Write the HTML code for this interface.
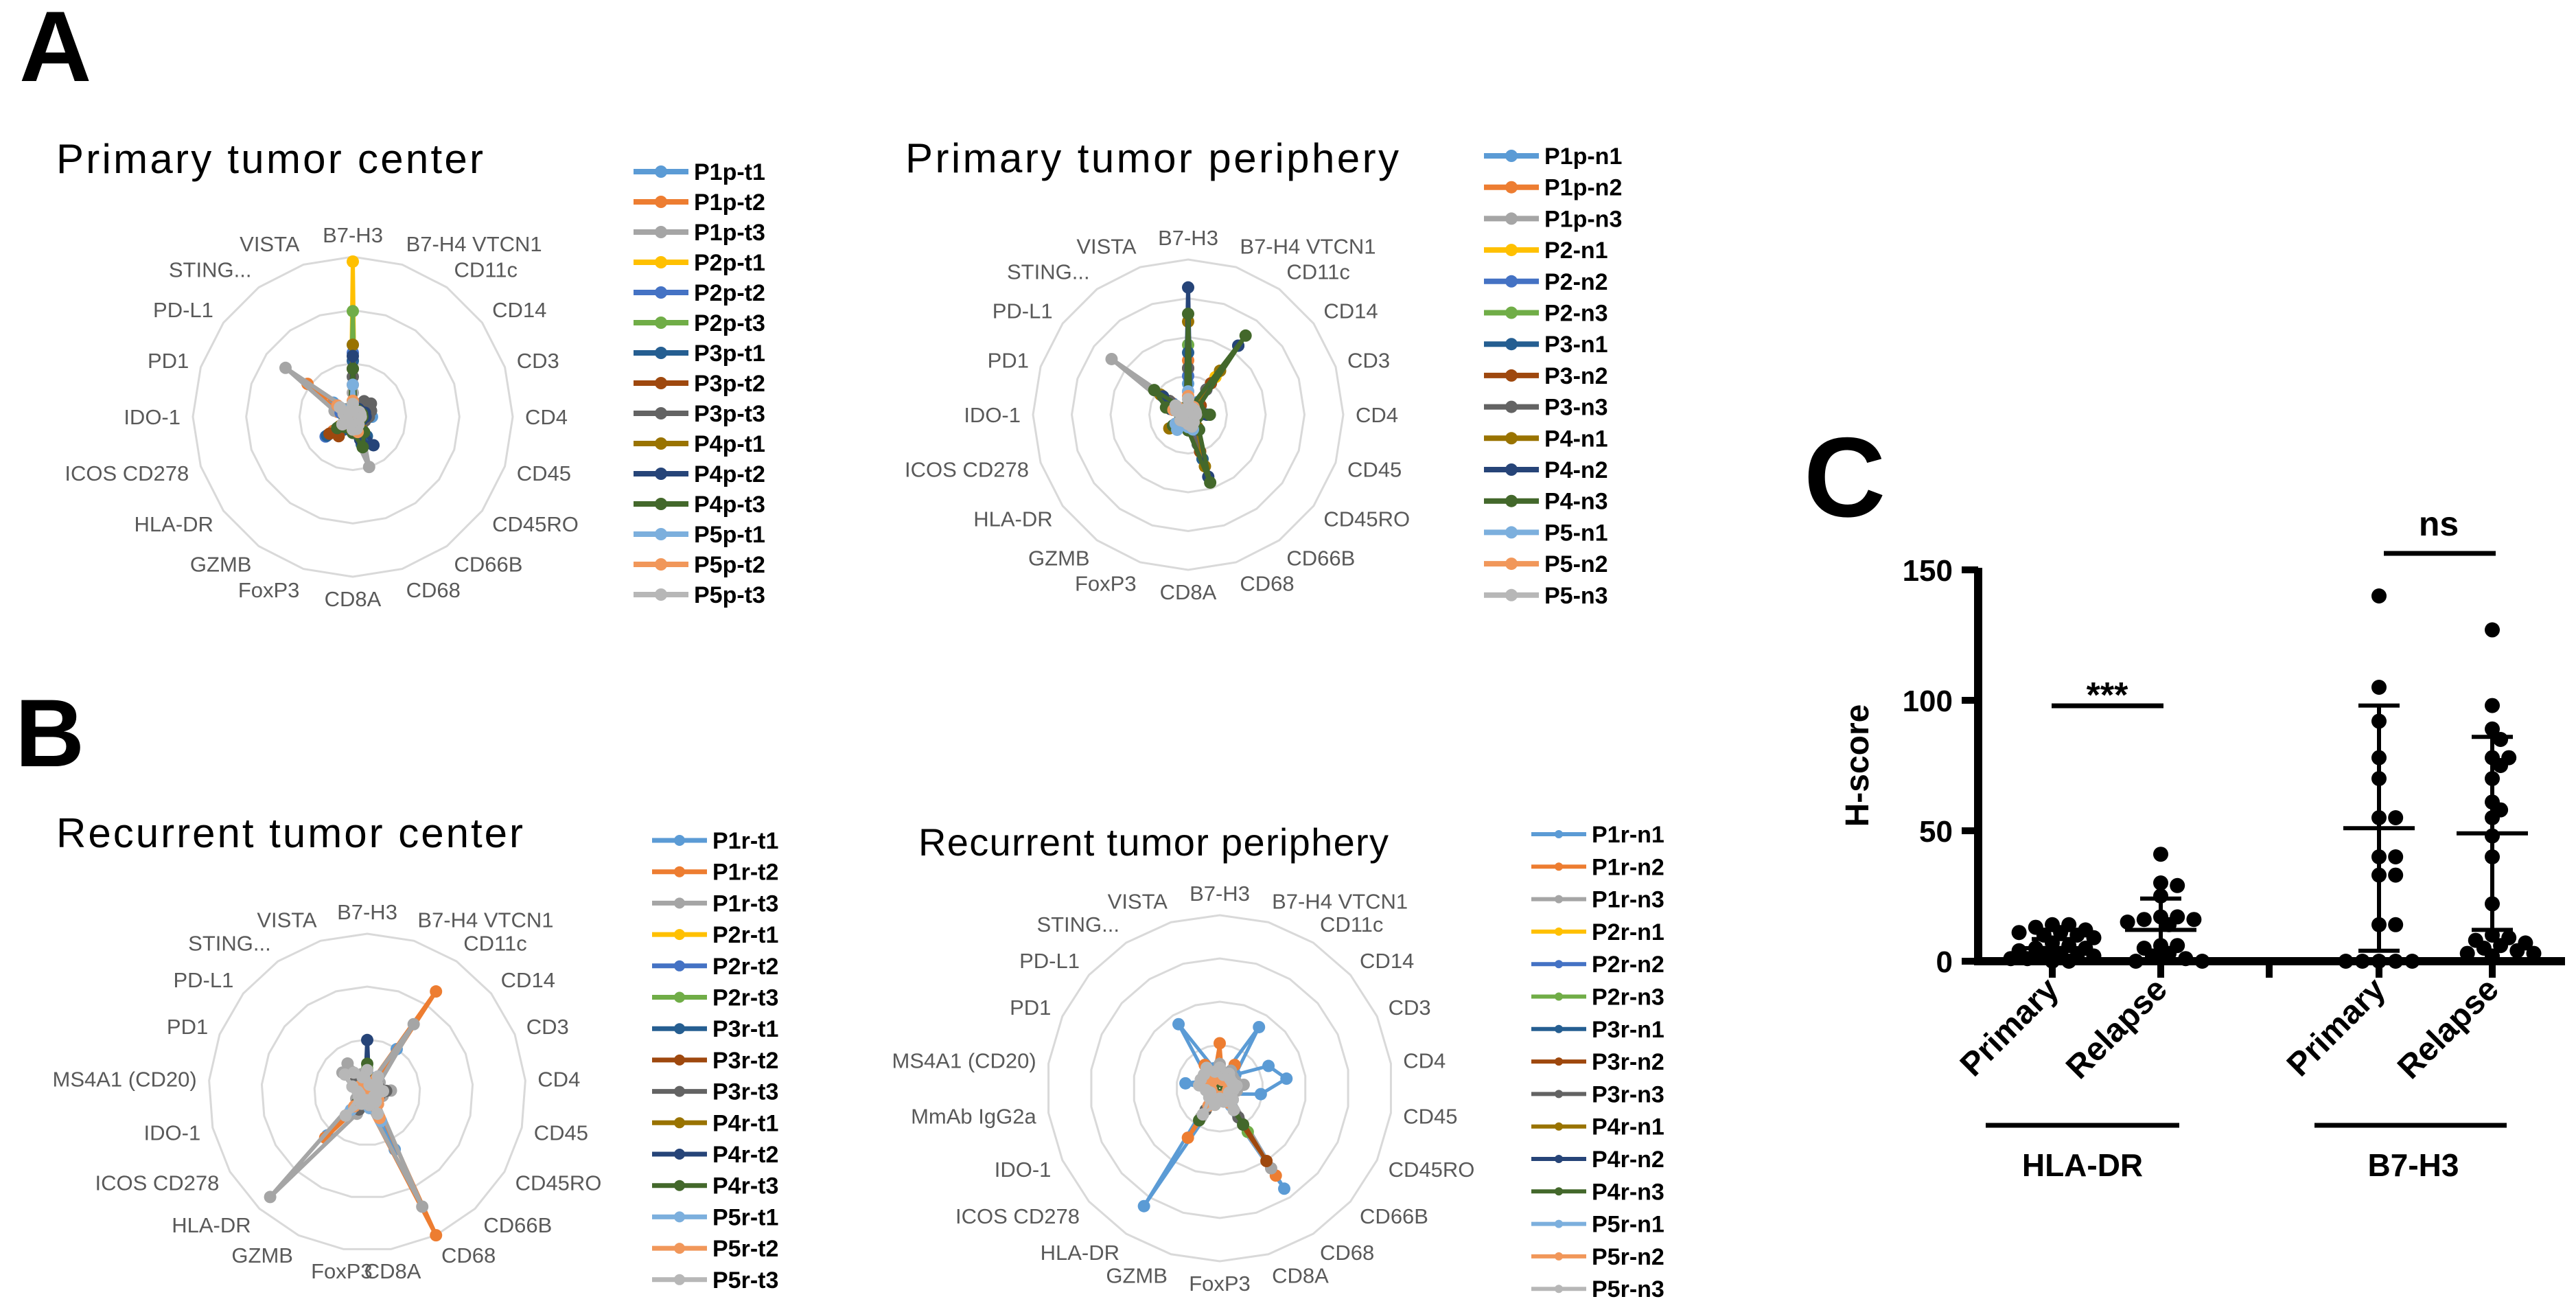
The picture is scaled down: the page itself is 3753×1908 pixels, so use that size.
<!DOCTYPE html>
<html><head><meta charset="utf-8"><style>
html,body{margin:0;padding:0;background:#fff}
svg{display:block;font-family:"Liberation Sans",Arial,sans-serif}
</style></head><body>
<svg id="fig" width="3753" height="1908" viewBox="0 0 3753 1908" xmlns="http://www.w3.org/2000/svg">
<rect width="3753" height="1908" fill="#fff"/>
<text x="28" y="118" font-size="146" font-weight="bold">A</text>
<text x="22" y="1116" font-size="140" font-weight="bold">B</text>
<text x="2628" y="752" font-size="165" font-weight="bold">C</text>
<text x="82" y="252" font-size="60" textLength="622">Primary tumor center</text>
<text x="1319" y="251" font-size="60" textLength="719">Primary tumor periphery</text>
<text x="82" y="1234" font-size="60" textLength="680">Recurrent tumor center</text>
<text x="1338" y="1246" font-size="56" textLength="685">Recurrent tumor periphery</text>
<g id="radars"></g>
<g id="panelC"></g>
</svg>
<script>
const NS='http://www.w3.org/2000/svg';
const COLORS=['#5B9BD5','#ED7D31','#A5A5A5','#FFC000','#4472C4','#70AD47','#255E91','#9E480E','#636363','#997300','#264478','#43682B','#7CAFDD','#F1975A','#B7B7B7'];

// ---------- Radar data ----------
const axesA=['B7-H3','B7-H4 VTCN1','CD11c','CD14','CD3','CD4','CD45','CD45RO','CD66B','CD68','CD8A','FoxP3','GZMB','HLA-DR','ICOS CD278','IDO-1','PD1','PD-L1','STING...','VISTA'];
const axesBL=['B7-H3','B7-H4 VTCN1','CD11c','CD14','CD3','CD4','CD45','CD45RO','CD66B','CD68','CD8A','FoxP3','GZMB','HLA-DR','ICOS CD278','IDO-1','MS4A1 (CD20)','PD1','PD-L1','STING...','VISTA'];
const axesBR=['B7-H3','B7-H4 VTCN1','CD11c','CD14','CD3','CD4','CD45','CD45RO','CD66B','CD68','CD8A','FoxP3','GZMB','HLA-DR','ICOS CD278','IDO-1','MmAb IgG2a','MS4A1 (CD20)','PD1','PD-L1','STING...','VISTA'];

const namesAL=['P1p-t1','P1p-t2','P1p-t3','P2p-t1','P2p-t2','P2p-t3','P3p-t1','P3p-t2','P3p-t3','P4p-t1','P4p-t2','P4p-t3','P5p-t1','P5p-t2','P5p-t3'];
const namesAR=['P1p-n1','P1p-n2','P1p-n3','P2-n1','P2-n2','P2-n3','P3-n1','P3-n2','P3-n3','P4-n1','P4-n2','P4-n3','P5-n1','P5-n2','P5-n3'];
const namesBL=['P1r-t1','P1r-t2','P1r-t3','P2r-t1','P2r-t2','P2r-t3','P3r-t1','P3r-t2','P3r-t3','P4r-t1','P4r-t2','P4r-t3','P5r-t1','P5r-t2','P5r-t3'];
const namesBR=['P1r-n1','P1r-n2','P1r-n3','P2r-n1','P2r-n2','P2r-n3','P3r-n1','P3r-n2','P3r-n3','P4r-n1','P4r-n2','P4r-n3','P5r-n1','P5r-n2','P5r-n3'];

const valuesAL=[
[.45,.05,.05,.08,.1,.12,.08,.05,.1,.15,.1,.05,.08,.15,.05,.05,.08,.15,.05,.05],
[.2,.05,.05,.05,.05,.06,.05,.05,.08,.1,.1,.05,.1,.15,.05,.05,.1,.35,.05,.05],
[.15,.05,.05,.06,.08,.1,.06,.05,.1,.33,.1,.05,.06,.1,.05,.05,.12,.52,.06,.05],
[.97,.04,.04,.04,.05,.05,.04,.04,.05,.05,.05,.04,.04,.05,.04,.04,.04,.05,.04,.04],
[.4,.05,.05,.05,.06,.08,.05,.05,.1,.12,.08,.05,.1,.21,.05,.05,.08,.12,.05,.05],
[.66,.05,.05,.05,.06,.06,.05,.05,.12,.18,.1,.05,.06,.1,.05,.05,.05,.08,.05,.05],
[.35,.05,.06,.08,.08,.1,.06,.05,.15,.18,.1,.05,.1,.2,.05,.05,.06,.1,.05,.05],
[.3,.05,.05,.05,.06,.06,.05,.05,.1,.12,.08,.05,.15,.18,.05,.05,.05,.08,.05,.05],
[.25,.06,.12,.14,.12,.1,.08,.05,.1,.1,.08,.05,.06,.08,.05,.05,.06,.08,.05,.05],
[.45,.05,.05,.06,.06,.06,.05,.05,.08,.12,.08,.05,.06,.1,.05,.05,.05,.08,.05,.05],
[.38,.05,.06,.06,.08,.08,.06,.05,.22,.15,.1,.05,.08,.12,.05,.05,.05,.08,.05,.05],
[.3,.05,.05,.05,.06,.06,.05,.05,.12,.2,.1,.05,.08,.12,.05,.05,.05,.08,.05,.05],
[.2,.04,.04,.05,.05,.05,.04,.04,.06,.08,.06,.04,.05,.08,.04,.04,.05,.08,.04,.04],
[.1,.04,.04,.05,.05,.05,.04,.04,.06,.1,.08,.04,.05,.08,.04,.04,.06,.12,.04,.04],
[.08,.04,.04,.05,.05,.05,.04,.04,.06,.08,.08,.04,.05,.08,.04,.04,.06,.1,.04,.04]];

const valuesAR=[
[.2,.05,.1,.06,.06,.06,.05,.05,.08,.12,.08,.05,.1,.12,.05,.05,.08,.1,.05,.05],
[.35,.05,.08,.05,.05,.05,.05,.05,.06,.1,.08,.05,.06,.1,.05,.05,.12,.14,.05,.05],
[.15,.05,.06,.05,.05,.06,.05,.05,.06,.1,.08,.05,.06,.1,.05,.05,.1,.61,.05,.05],
[.3,.05,.3,.06,.06,.06,.05,.05,.08,.25,.1,.05,.08,.1,.05,.05,.1,.12,.05,.05],
[.25,.05,.2,.06,.06,.06,.05,.05,.08,.2,.1,.05,.1,.12,.05,.05,.1,.12,.05,.05],
[.45,.05,.35,.08,.06,.08,.05,.05,.1,.3,.1,.05,.1,.1,.05,.05,.12,.2,.05,.05],
[.4,.05,.55,.06,.06,.06,.05,.05,.1,.3,.1,.05,.08,.1,.05,.05,.1,.15,.05,.05],
[.3,.05,.25,.1,.08,.06,.05,.05,.1,.25,.1,.05,.08,.1,.05,.05,.1,.15,.05,.05],
[.3,.05,.2,.06,.06,.08,.05,.05,.1,.2,.1,.05,.08,.1,.05,.05,.1,.15,.05,.05],
[.6,.05,.35,.06,.06,.06,.05,.05,.1,.35,.1,.05,.1,.15,.05,.05,.12,.22,.05,.05],
[.82,.05,.55,.08,.08,.12,.06,.05,.12,.42,.1,.05,.1,.12,.05,.05,.12,.2,.05,.05],
[.65,.05,.63,.08,.08,.14,.06,.05,.12,.46,.1,.05,.1,.12,.05,.05,.15,.27,.05,.05],
[.15,.04,.06,.05,.05,.05,.04,.04,.06,.1,.08,.04,.12,.1,.04,.04,.06,.08,.04,.04],
[.12,.04,.06,.05,.05,.05,.04,.04,.06,.08,.06,.04,.05,.06,.04,.04,.1,.08,.04,.04],
[.1,.04,.05,.05,.05,.05,.04,.04,.06,.08,.06,.04,.05,.06,.04,.04,.08,.1,.04,.04]];

const valuesBL=[
[.1,.05,.33,.06,.06,.06,.05,.05,.08,.4,.1,.05,.08,.37,.05,.05,.05,.08,.1,.08,.06],
[.08,.05,.77,.06,.06,.06,.05,.05,.08,1.0,.1,.05,.08,.39,.05,.05,.05,.08,.1,.08,.06],
[.12,.05,.52,.1,.08,.15,.1,.05,.1,.8,.1,.05,.15,.9,.08,.05,.06,.1,.2,.22,.12],
[.06,.04,.04,.04,.04,.04,.04,.04,.05,.06,.05,.04,.04,.06,.04,.04,.04,.05,.05,.04,.04],
[.08,.04,.05,.05,.05,.05,.04,.04,.05,.08,.05,.04,.05,.08,.04,.04,.04,.05,.06,.05,.04],
[.15,.04,.05,.05,.05,.05,.04,.04,.05,.08,.05,.04,.05,.08,.04,.04,.04,.05,.06,.05,.04],
[.12,.04,.06,.05,.05,.05,.04,.04,.05,.1,.06,.04,.05,.08,.04,.04,.04,.05,.06,.05,.04],
[.08,.04,.05,.05,.05,.05,.04,.04,.05,.1,.06,.04,.08,.1,.04,.04,.04,.05,.06,.05,.04],
[.1,.05,.08,.08,.08,.12,.08,.05,.06,.12,.06,.04,.12,.1,.05,.04,.04,.06,.1,.08,.05],
[.1,.04,.05,.05,.05,.05,.04,.04,.05,.08,.05,.04,.05,.08,.04,.04,.04,.05,.06,.05,.04],
[.33,.04,.06,.05,.05,.05,.04,.04,.05,.08,.05,.04,.05,.08,.04,.04,.04,.05,.06,.05,.04],
[.18,.04,.06,.05,.05,.05,.04,.04,.05,.08,.05,.04,.05,.08,.04,.04,.04,.05,.06,.05,.04],
[.06,.04,.12,.05,.05,.05,.04,.04,.08,.2,.1,.04,.05,.15,.04,.04,.04,.05,.06,.05,.04],
[.06,.04,.1,.05,.05,.05,.04,.08,.1,.18,.08,.04,.05,.12,.04,.04,.04,.05,.06,.05,.04],
[.14,.05,.12,.08,.06,.1,.06,.05,.08,.15,.08,.05,.08,.2,.06,.05,.06,.1,.18,.15,.1]];

const valuesBR=[
[.1,.08,.42,.12,.31,.39,.24,.08,.08,.69,.08,.06,.08,.81,.06,.06,.06,.2,.1,.1,.44,.12],
[.26,.06,.16,.06,.06,.08,.06,.05,.08,.6,.06,.05,.06,.34,.05,.05,.05,.06,.08,.08,.16,.1],
[.14,.08,.12,.1,.1,.14,.1,.06,.1,.55,.08,.06,.1,.2,.06,.06,.08,.12,.12,.12,.14,.1],
[.05,.04,.04,.04,.04,.04,.04,.04,.04,.05,.04,.04,.04,.05,.04,.04,.04,.04,.04,.04,.04,.04],
[.06,.04,.05,.05,.05,.05,.04,.04,.05,.08,.05,.04,.05,.08,.04,.04,.04,.05,.05,.05,.05,.04],
[.06,.04,.05,.05,.05,.05,.04,.04,.05,.3,.05,.04,.05,.15,.04,.04,.04,.05,.05,.05,.05,.04],
[.06,.04,.05,.05,.05,.05,.04,.04,.05,.1,.05,.04,.05,.08,.04,.04,.04,.05,.05,.05,.05,.04],
[.06,.04,.05,.05,.05,.05,.04,.04,.05,.5,.05,.04,.05,.1,.04,.04,.04,.05,.05,.05,.05,.04],
[.12,.06,.1,.08,.08,.1,.08,.06,.08,.2,.06,.05,.08,.15,.05,.05,.06,.1,.1,.1,.12,.1],
[.06,.04,.05,.05,.05,.05,.04,.04,.05,.1,.05,.04,.05,.08,.04,.04,.04,.05,.05,.05,.05,.04],
[.06,.04,.05,.05,.05,.05,.04,.04,.05,.1,.05,.04,.05,.08,.04,.04,.04,.05,.05,.05,.05,.04],
[.08,.04,.05,.05,.05,.05,.04,.04,.05,.25,.05,.04,.08,.22,.04,.04,.04,.05,.05,.05,.05,.04],
[.08,.05,.1,.06,.06,.08,.06,.05,.06,.12,.06,.05,.06,.12,.05,.05,.05,.08,.08,.08,.1,.08],
[.08,.05,.08,.06,.06,.06,.05,.05,.06,.1,.06,.05,.06,.12,.05,.05,.05,.06,.06,.06,.08,.06],
[.12,.08,.1,.08,.08,.1,.08,.06,.1,.15,.08,.06,.1,.18,.08,.06,.08,.12,.12,.12,.14,.1]];

function el(tag,attrs,parent){const e=document.createElementNS(NS,tag);for(const k in attrs)e.setAttribute(k,attrs[k]);parent.appendChild(e);return e;}

function drawRadar(cfg){
  const g=el('g',{},document.getElementById('radars'));
  
  
  const n=cfg.axes.length;
  const pt=(i,f)=>{const a=i*2*Math.PI/n;return [cfg.cx+f*cfg.r*Math.sin(a),cfg.cy-f*cfg.r*Math.cos(a)];};
  for(let k=1;k<=cfg.rings;k++){
    const f=k/cfg.rings;const pts=[];
    for(let i=0;i<n;i++)pts.push(pt(i,f).join(','));
    const ring=el('polygon',{points:pts.join(' '),fill:'none',stroke:'#d9d9d9','stroke-width':3},g);
    
    
  }
  cfg.axes.forEach((lab,i)=>{
    const a=i*2*Math.PI/n,s=Math.sin(a),c=Math.cos(a);
    const x=cfg.cx+(cfg.r+18)*s,y=cfg.cy-(cfg.r+18)*c;
    const anchor=s>0.15?'start':(s<-0.15?'end':'middle');
    const t=el('text',{x:x,y:y-c*14+11,'font-size':cfg.fs,fill:'#595959','text-anchor':anchor},g);
    t.textContent=lab;
    
    
  });
  cfg.values.forEach((vals,si)=>{
    const col=COLORS[si];
    const pts=vals.map((v,i)=>pt(i,v));
    const pl=el('polygon',{points:pts.map(p=>p.join(',')).join(' '),fill:'none',stroke:col,'stroke-width':cfg.lw,'stroke-linejoin':'round'},g);
    
    
    pts.forEach(p=>{
      const m=el('circle',{cx:p[0],cy:p[1],r:cfg.mr,fill:col},g);
      
      
    });
  });
  cfg.names.forEach((nm,i)=>{
    const y=cfg.ly+i*cfg.lsp;
    const lg=el('g',{},g);
    
    
    el('line',{x1:cfg.lx,x2:cfg.lx+80,y1:y,y2:y,stroke:COLORS[i],'stroke-width':cfg.llw},lg);
    el('circle',{cx:cfg.lx+40,cy:y,r:cfg.lmr,fill:COLORS[i]},lg);
    const t=el('text',{x:cfg.lx+88,y:y+12,'font-size':34,'font-weight':'bold',fill:'#000'},lg);
    t.textContent=nm;
  });
}
drawRadar({id:'radar-primary-center',axes:axesA,values:valuesAL,names:namesAL,cx:514,cy:607,r:233,rings:3,fs:31,lw:6,mr:9,lx:923,ly:250,lsp:44,llw:8,lmr:9});
drawRadar({id:'radar-primary-periphery',axes:axesA,values:valuesAR,names:namesAR,cx:1731,cy:604,r:226,rings:4,fs:31,lw:6,mr:9,lx:2162,ly:227,lsp:45.7,llw:8,lmr:9});
drawRadar({id:'radar-recurrent-center',axes:axesBL,values:valuesBL,names:namesBL,cx:535,cy:1591,r:231,rings:3,fs:31,lw:6,mr:9,lx:950,ly:1224,lsp:45.7,llw:7,lmr:8});
drawRadar({id:'radar-recurrent-periphery',axes:axesBR,values:valuesBR,names:namesBR,cx:1777,cy:1585,r:252,rings:4,fs:31,lw:5,mr:9,lx:2231,ly:1215,lsp:47.3,llw:6,lmr:6});

// ---------- Panel C data ----------
const cCategories=['Primary','Relapse','Primary','Relapse'];
const cGroups=['HLA-DR','B7-H3'];
const hlaPrimary=[14,14,13,12,11,11,10,10,9,7,6,5,5,4,3,3,2,2,1,1,0,0];
const hlaRelapse=[41,30,29,25,17,17,16,16,15,14,6,6,5,3,2,1,0,0];
const b7Primary=[140,105,92,78,70,55,55,40,40,33,33,14,14,0,0,0,0,0];
const b7Relapse=[127,98,89,85,78,78,75,70,61,58,55,48,40,22,10,9,8,7,6,5,4,3,3,2];
const cMeans=[5,12,51,49];
const cSDs=[3.5,12,47,37];
const cTicks=[0,50,100,150];

(function(){
  const g=document.getElementById('panelC');
  const Y=v=>1400-v*3.8;
  const catX=[2990,3148,3466,3631];
  const series=[hlaPrimary,hlaRelapse,b7Primary,b7Relapse];
  const ya=el('line',{x1:2882,x2:2882,y1:Y(150)-3,y2:1406,stroke:'#000','stroke-width':12},g);
  
  const xa=el('line',{x1:2876,x2:3737,y1:1400,y2:1400,stroke:'#000','stroke-width':12},g);
  
  cTicks.forEach(v=>{
    el('line',{x1:2858,x2:2882,y1:Y(v),y2:Y(v),stroke:'#000','stroke-width':10},g);
    const t=el('text',{x:2845,y:Y(v)+16,'font-size':44,'font-weight':'bold','text-anchor':'end'},g);
    t.textContent=v;
    
    
  });
  const yt=el('text',{x:0,y:0,'font-size':48,'font-weight':'bold','text-anchor':'middle',transform:'translate(2722,1115) rotate(-90)'},g);
  yt.textContent='H-score';
  
  
  [...catX,3306].forEach(x=>el('line',{x1:x,x2:x,y1:1400,y2:1424,stroke:'#000','stroke-width':10},g));
  cCategories.forEach((c,i)=>{
    const t=el('text',{x:0,y:0,'font-size':48,'font-weight':'bold','text-anchor':'end',transform:`translate(${catX[i]+12},${1444}) rotate(-45)`},g);
    t.textContent=c;
    
    
  });
  const R=11, MAXOFF=66;
  series.forEach((vals,si)=>{
    const placed=[];
    [...vals].sort((a,b)=>b-a).forEach(v=>{
      const y=Y(v);
      let best=0,bestScore=-1;
      for(let k=0;k<14;k++){
        const cand=k===0?0:(k%2?1:-1)*Math.ceil(k/2)*R*1.1;
        if(Math.abs(cand)>MAXOFF)break;
        const minD=placed.length?Math.min(...placed.map(p=>Math.hypot(p[0]-cand,p[1]-y))):1e9;
        if(minD>=R*1.5){best=cand;bestScore=1e9;break;}
        if(minD>bestScore){bestScore=minD;best=cand;}
      }
      placed.push([best,y]);
      const d=el('circle',{cx:catX[si]+best,cy:y,r:R,fill:'#000'},g);
      
      
    });
    const m=cMeans[si],s=cSDs[si],x=catX[si];
    el('line',{x1:x-52,x2:x+52,y1:Y(m),y2:Y(m),stroke:'#000','stroke-width':6},g);
    el('line',{x1:x,x2:x,y1:Y(m+s),y2:Y(Math.max(m-s,0)),stroke:'#000','stroke-width':6},g);
    el('line',{x1:x-30,x2:x+30,y1:Y(m+s),y2:Y(m+s),stroke:'#000','stroke-width':6},g);
    el('line',{x1:x-30,x2:x+30,y1:Y(Math.max(m-s,0)),y2:Y(Math.max(m-s,0)),stroke:'#000','stroke-width':6},g);
  });
  el('line',{x1:2989,x2:3152,y1:1028,y2:1028,stroke:'#000','stroke-width':7},g);
  const s1=el('text',{x:3070,y:1030,'font-size':52,'font-weight':'bold','text-anchor':'middle'},g);
  s1.textContent='***';
  el('line',{x1:3473,x2:3636,y1:806,y2:806,stroke:'#000','stroke-width':7},g);
  const s2=el('text',{x:3553,y:780,'font-size':50,'font-weight':'bold','text-anchor':'middle'},g);
  s2.textContent='ns';
  const gx=[[2893,3175],[3372,3652]];
  cGroups.forEach((gname,i)=>{
    el('line',{x1:gx[i][0],x2:gx[i][1],y1:1639,y2:1639,stroke:'#000','stroke-width':7},g);
    const t=el('text',{x:(gx[i][0]+gx[i][1])/2+(i?4:0),y:1713,'font-size':46,'font-weight':'bold','text-anchor':'middle'},g);
    t.textContent=gname;
    
    
  });
})();
</script>
</body></html>
